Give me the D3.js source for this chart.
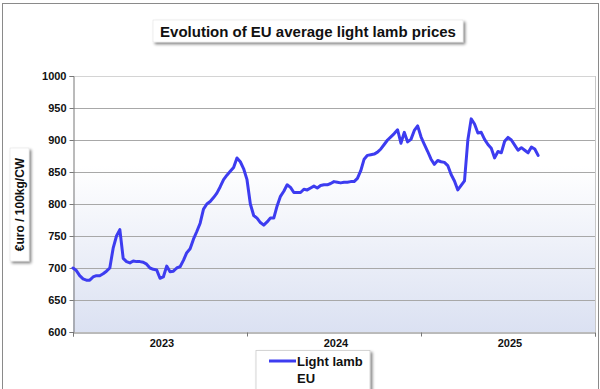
<!DOCTYPE html>
<html><head><meta charset="utf-8">
<script src="https://cdn.jsdelivr.net/npm/d3@7"></script>
<style>
html,body{margin:0;padding:0;background:#fff;}
svg{display:block;font-family:"Liberation Sans",Arial,sans-serif;}
</style></head>
<body>
<svg id="c" width="600" height="389"></svg>
<script>
const title = "Evolution of EU average light lamb prices";
const yLabel = "€uro / 100kg/CW";
const seriesName = ["Light lamb", "EU"];
const years = ["2023", "2024", "2025"];
const weeksPerYear = 52;
const yTicks = [600, 650, 700, 750, 800, 850, 900, 950, 1000];
// weekly prices starting week 1 of 2023
const prices = [
 700,696,688,683,681,681,686,688,688,691,
 695,700,731,750,760,715,710,708,711,710,
 710,709,706,700,698,697,684,686,703,694,
 695,700,702,712,724,730,745,757,770,792,
 800,804,810,817,827,838,845,851,857,872,
 866,855,838,800,782,778,771,767,772,778,
 778,797,812,820,830,826,818,818,818,823,
 822,825,828,825,829,830,830,832,835,834,
 833,834,834,835,835,840,852,870,876,877,
 878,881,886,893,900,905,910,916,895,912,
 897,901,915,922,905,893,882,870,862,868,
 866,865,860,846,836,822,829,836,900,933,
 925,911,912,901,893,887,872,882,880,898,
 904,900,892,884,888,884,880,889,886,876
];

const svg = d3.select("#c");
const m = {left:73, right:595, top:76, bottom:332};

// outer frame
svg.append("rect").attr("x",2.5).attr("y",3.5).attr("width",596).attr("height",390)
  .attr("fill","#fff").attr("stroke","#8a8a8a").attr("stroke-width",1);

const defs = svg.append("defs");
const grad = defs.append("linearGradient").attr("id","bg").attr("x1",0).attr("y1",0).attr("x2",0).attr("y2",1);
grad.append("stop").attr("offset","0%").attr("stop-color","#ffffff");
grad.append("stop").attr("offset","35%").attr("stop-color","#ffffff");
grad.append("stop").attr("offset","100%").attr("stop-color","#dbe1f2");
const sh = defs.append("filter").attr("id","sh").attr("x","-20%").attr("y","-20%").attr("width","150%").attr("height","180%");
sh.append("feGaussianBlur").attr("in","SourceAlpha").attr("stdDeviation",1.5).attr("result","b");
sh.append("feOffset").attr("in","b").attr("dx",2).attr("dy",2).attr("result","o");
sh.append("feComponentTransfer").attr("in","o").attr("result","o2").append("feFuncA").attr("type","linear").attr("slope",0.5);
const mg = sh.append("feMerge"); mg.append("feMergeNode").attr("in","o2"); mg.append("feMergeNode").attr("in","SourceGraphic");

const x = d3.scaleLinear().domain([0, years.length*weeksPerYear]).range([m.left, m.right]);
const y = d3.scaleLinear().domain([600,1000]).range([m.bottom, m.top]);

svg.append("rect").attr("x",m.left).attr("y",m.top).attr("width",m.right-m.left).attr("height",m.bottom-m.top)
  .attr("fill","url(#bg)");

// gridlines
svg.append("g").selectAll("line").data(yTicks.filter(d=>d>600)).join("line")
  .attr("x1",m.left).attr("x2",m.right).attr("y1",d=>Math.round(y(d))+0.5).attr("y2",d=>Math.round(y(d))+0.5)
  .attr("stroke",d=>d===1000?"#d4d4d4":"#a8a8a8").attr("stroke-width",1);
// right border
svg.append("line").attr("x1",m.right+0.5).attr("x2",m.right+0.5).attr("y1",m.top).attr("y2",m.bottom)
  .attr("stroke","#c8c8c8");

// y axis
const ya = svg.append("g").attr("transform",`translate(${m.left+0.5},0)`)
  .call(d3.axisLeft(y).tickValues(yTicks).tickSize(4).tickPadding(3).tickFormat(d3.format("d")));
ya.select(".domain").attr("stroke","#777");
ya.selectAll(".tick line").attr("stroke","#777");
ya.selectAll("text").attr("font-size","11px").attr("font-weight","bold").attr("fill","#111")
  .attr("font-family","'Liberation Sans',Arial,sans-serif");

// x axis
const xa = svg.append("g").attr("transform",`translate(0,${m.bottom+0.5})`)
  .call(d3.axisBottom(x).tickValues(d3.range(0, years.length+1).map(i=>i*weeksPerYear)).tickSize(4).tickFormat(""));
xa.select(".domain").attr("stroke","#777");
xa.selectAll(".tick line").attr("stroke","#777");
svg.append("g").selectAll("text").data(years).join("text")
  .attr("x",(d,i)=>x((i+0.5)*weeksPerYear)+2).attr("y",m.bottom+15)
  .attr("text-anchor","middle").attr("font-size","11px").attr("font-weight","bold").attr("fill","#111")
  .text(d=>d);

// line
const line = d3.line().x((d,i)=>x(i)).y(d=>y(d)).curve(d3.curveLinear);
svg.append("path").datum(prices).attr("d",line).attr("fill","none")
  .attr("stroke","#3d3cf0").attr("stroke-width",3).attr("stroke-linejoin","round").attr("stroke-linecap","round");

// title box
const tg = svg.append("g");
tg.append("rect").attr("x",153).attr("y",20).attr("width",310).attr("height",22)
  .attr("fill","#fff").attr("stroke","#ddd").attr("stroke-width",0.5).attr("filter","url(#sh)");
tg.append("text").attr("x",308).attr("y",36.5).attr("text-anchor","middle")
  .attr("font-size","15px").attr("font-weight","bold").attr("fill","#111").text(title);

// y label box
const lg = svg.append("g");
lg.append("rect").attr("x",10).attr("y",148).attr("width",19).attr("height",113)
  .attr("fill","#fff").attr("stroke","#ddd").attr("stroke-width",0.5).attr("filter","url(#sh)");
lg.append("text").attr("transform","translate(24,204.5) rotate(-90)").attr("text-anchor","middle")
  .attr("font-size","12px").attr("font-weight","bold").attr("fill","#111").text(yLabel);

// legend
const leg = svg.append("g");
leg.append("rect").attr("x",256).attr("y",350.5).attr("width",114).attr("height",45)
  .attr("fill","#fff").attr("stroke","#ccc").attr("stroke-width",0.8).attr("filter","url(#sh)");
leg.append("line").attr("x1",269).attr("x2",296).attr("y1",361).attr("y2",361)
  .attr("stroke","#3d3cf0").attr("stroke-width",3);
leg.append("text").attr("x",297).attr("y",366).attr("font-size","13px").attr("font-weight","bold")
  .attr("fill","#111").text(seriesName[0]);
leg.append("text").attr("x",297).attr("y",383).attr("font-size","13px").attr("font-weight","bold")
  .attr("fill","#111").text(seriesName[1]);
</script>
</body></html>
